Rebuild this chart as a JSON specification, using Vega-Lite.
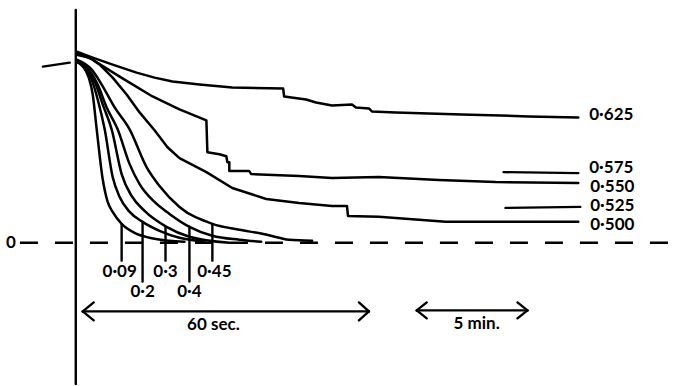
{
  "$schema": "https://vega.github.io/schema/vega-lite/v6.json",
  "autosize": {"type": "fit", "contains": "padding"},
  "width": 676,
  "height": 386,
  "padding": 0,
  "background": "white",
  "config": {"view": {"stroke": null}},
  "datasets": {
    "smooth": [
      {"s":"0.45","i":0,"x":77,"y":60},{"s":"0.45","i":1,"x":92,"y":70},{"s":"0.45","i":2,"x":102,"y":85},{"s":"0.45","i":3,"x":115,"y":108},{"s":"0.45","i":4,"x":130,"y":130},{"s":"0.45","i":5,"x":147,"y":168},{"s":"0.45","i":6,"x":160,"y":187},{"s":"0.45","i":7,"x":180,"y":208},{"s":"0.45","i":8,"x":213,"y":225},{"s":"0.45","i":9,"x":240,"y":231},{"s":"0.45","i":10,"x":263,"y":235},{"s":"0.45","i":11,"x":280,"y":239},{"s":"0.45","i":12,"x":290,"y":241},{"s":"0.45","i":13,"x":313,"y":242},
      {"s":"0.4","i":0,"x":77,"y":62},{"s":"0.4","i":1,"x":90,"y":71},{"s":"0.4","i":2,"x":98,"y":85},{"s":"0.4","i":3,"x":107,"y":108},{"s":"0.4","i":4,"x":118,"y":130},{"s":"0.4","i":5,"x":130,"y":165},{"s":"0.4","i":6,"x":140,"y":185},{"s":"0.4","i":7,"x":155,"y":203},{"s":"0.4","i":8,"x":170,"y":215},{"s":"0.4","i":9,"x":190,"y":228},{"s":"0.4","i":10,"x":213,"y":237},{"s":"0.4","i":11,"x":240,"y":241},{"s":"0.4","i":12,"x":262,"y":243},
      {"s":"0.3","i":0,"x":77,"y":62},{"s":"0.3","i":1,"x":88,"y":70},{"s":"0.3","i":2,"x":95,"y":82},{"s":"0.3","i":3,"x":103,"y":105},{"s":"0.3","i":4,"x":112,"y":130},{"s":"0.3","i":5,"x":122,"y":175},{"s":"0.3","i":6,"x":132,"y":197},{"s":"0.3","i":7,"x":145,"y":212},{"s":"0.3","i":8,"x":167,"y":228},{"s":"0.3","i":9,"x":190,"y":238},{"s":"0.3","i":10,"x":230,"y":244},
      {"s":"0.2","i":0,"x":77,"y":62},{"s":"0.2","i":1,"x":86,"y":69},{"s":"0.2","i":2,"x":92,"y":80},{"s":"0.2","i":3,"x":98,"y":100},{"s":"0.2","i":4,"x":105,"y":130},{"s":"0.2","i":5,"x":113,"y":178},{"s":"0.2","i":6,"x":120,"y":198},{"s":"0.2","i":7,"x":130,"y":213},{"s":"0.2","i":8,"x":143,"y":223},{"s":"0.2","i":9,"x":160,"y":232},{"s":"0.2","i":10,"x":180,"y":239},{"s":"0.2","i":11,"x":205,"y":243},
      {"s":"0.09","i":0,"x":77,"y":62},{"s":"0.09","i":1,"x":84,"y":68},{"s":"0.09","i":2,"x":89,"y":78},{"s":"0.09","i":3,"x":93,"y":95},{"s":"0.09","i":4,"x":97,"y":130},{"s":"0.09","i":5,"x":103,"y":180},{"s":"0.09","i":6,"x":108,"y":203},{"s":"0.09","i":7,"x":113,"y":213},{"s":"0.09","i":8,"x":122,"y":225},{"s":"0.09","i":9,"x":135,"y":234},{"s":"0.09","i":10,"x":150,"y":239},{"s":"0.09","i":11,"x":170,"y":242},{"s":"0.09","i":12,"x":185,"y":243}
    ],
    "stepped": [
      {"s":"0.625","i":0,"x":77,"y":52},{"s":"0.625","i":1,"x":93,"y":58},{"s":"0.625","i":2,"x":113,"y":65},{"s":"0.625","i":3,"x":137,"y":73},{"s":"0.625","i":4,"x":155,"y":78},{"s":"0.625","i":5,"x":173,"y":82},{"s":"0.625","i":6,"x":200,"y":85},{"s":"0.625","i":7,"x":233,"y":88},{"s":"0.625","i":8,"x":284,"y":89},{"s":"0.625","i":9,"x":285,"y":97},{"s":"0.625","i":10,"x":307,"y":100},{"s":"0.625","i":11,"x":317,"y":103},{"s":"0.625","i":12,"x":333,"y":106},{"s":"0.625","i":13,"x":353,"y":105},{"s":"0.625","i":14,"x":357,"y":108},{"s":"0.625","i":15,"x":370,"y":109},{"s":"0.625","i":16,"x":373,"y":112},{"s":"0.625","i":17,"x":397,"y":113},{"s":"0.625","i":18,"x":463,"y":115},{"s":"0.625","i":19,"x":530,"y":117},{"s":"0.625","i":20,"x":580,"y":118},
      {"s":"0.550","i":0,"x":77,"y":53},{"s":"0.550","i":1,"x":93,"y":60},{"s":"0.550","i":2,"x":120,"y":77},{"s":"0.550","i":3,"x":153,"y":97},{"s":"0.550","i":4,"x":180,"y":110},{"s":"0.550","i":5,"x":207,"y":121},{"s":"0.550","i":6,"x":208,"y":153},{"s":"0.550","i":7,"x":220,"y":155},{"s":"0.550","i":8,"x":227,"y":157},{"s":"0.550","i":9,"x":228,"y":163},{"s":"0.550","i":10,"x":230,"y":163},{"s":"0.550","i":11,"x":230,"y":172},{"s":"0.550","i":12,"x":250,"y":172},{"s":"0.550","i":13,"x":252,"y":175},{"s":"0.550","i":14,"x":300,"y":177},{"s":"0.550","i":15,"x":333,"y":179},{"s":"0.550","i":16,"x":380,"y":178},{"s":"0.550","i":17,"x":440,"y":181},{"s":"0.550","i":18,"x":497,"y":183},{"s":"0.550","i":19,"x":580,"y":184},
      {"s":"0.500","i":0,"x":77,"y":55},{"s":"0.500","i":1,"x":90,"y":58},{"s":"0.500","i":2,"x":100,"y":65},{"s":"0.500","i":3,"x":113,"y":78},{"s":"0.500","i":4,"x":127,"y":95},{"s":"0.500","i":5,"x":140,"y":113},{"s":"0.500","i":6,"x":155,"y":131},{"s":"0.500","i":7,"x":168,"y":148},{"s":"0.500","i":8,"x":180,"y":159},{"s":"0.500","i":9,"x":207,"y":173},{"s":"0.500","i":10,"x":233,"y":189},{"s":"0.500","i":11,"x":267,"y":200},{"s":"0.500","i":12,"x":300,"y":204},{"s":"0.500","i":13,"x":333,"y":207},{"s":"0.500","i":14,"x":348,"y":207},{"s":"0.500","i":15,"x":349,"y":217},{"s":"0.500","i":16,"x":380,"y":218},{"s":"0.500","i":17,"x":447,"y":223},{"s":"0.500","i":18,"x":580,"y":223}
    ],
    "segs": [
      {"x":76,"y":10,"x2":76,"y2":386},
      {"x":43,"y":67,"x2":70,"y2":63},
      {"x":122,"y":225,"x2":122,"y2":262},
      {"x":143,"y":223,"x2":143,"y2":283},
      {"x":166,"y":228,"x2":166,"y2":262},
      {"x":190,"y":228,"x2":190,"y2":283},
      {"x":213,"y":225,"x2":213,"y2":262},
      {"x":505,"y":173,"x2":580,"y2":174},
      {"x":507,"y":209,"x2":582,"y2":208},
      {"x":83,"y":313,"x2":370,"y2":313},
      {"x":83,"y":313,"x2":94,"y2":304},
      {"x":83,"y":313,"x2":94,"y2":322},
      {"x":370,"y":313,"x2":360,"y2":304},
      {"x":370,"y":313,"x2":360,"y2":322},
      {"x":418,"y":312,"x2":529,"y2":312},
      {"x":418,"y":312,"x2":428,"y2":304},
      {"x":418,"y":312,"x2":428,"y2":320},
      {"x":529,"y":312,"x2":519,"y2":304},
      {"x":529,"y":312,"x2":519,"y2":320}
    ],
    "zero": [{"x":20,"y":244,"x2":676,"y2":244}],
    "rightLabels": [
      {"x":591,"y":116,"t":"0·625"},
      {"x":591,"y":169,"t":"0·575"},
      {"x":592,"y":188,"t":"0·550"},
      {"x":592,"y":207,"t":"0·525"},
      {"x":592,"y":226,"t":"0·500"}
    ],
    "centerLabels": [
      {"x":120,"y":273,"t":"0·09"},
      {"x":143,"y":294,"t":"0·2"},
      {"x":166,"y":273,"t":"0·3"},
      {"x":190,"y":294,"t":"0·4"},
      {"x":215,"y":273,"t":"0·45"},
      {"x":214,"y":327,"t":"60 sec."},
      {"x":478,"y":326,"t":"5 min."},
      {"x":11,"y":244,"t":"0"}
    ]
  },
  "layer": [
    {
      "data": {"name": "zero"},
      "mark": {"type": "rule", "stroke": "black", "strokeWidth": 2.4, "strokeDash": [18, 17]},
      "encoding": {
        "x": {"field": "x", "type": "quantitative", "scale": {"domain": [0, 676], "nice": false, "zero": false}, "axis": null},
        "y": {"field": "y", "type": "quantitative", "scale": {"domain": [0, 386], "nice": false, "zero": false, "reverse": true}, "axis": null},
        "x2": {"field": "x2"},
        "y2": {"field": "y2"}
      }
    },
    {
      "data": {"name": "segs"},
      "mark": {"type": "rule", "stroke": "black", "strokeWidth": 2.4, "strokeCap": "round"},
      "encoding": {
        "x": {"field": "x", "type": "quantitative"},
        "y": {"field": "y", "type": "quantitative"},
        "x2": {"field": "x2"},
        "y2": {"field": "y2"}
      }
    },
    {
      "data": {"name": "smooth"},
      "mark": {"type": "line", "stroke": "black", "strokeWidth": 2.5, "interpolate": "monotone", "strokeJoin": "round", "strokeCap": "round"},
      "encoding": {
        "x": {"field": "x", "type": "quantitative"},
        "y": {"field": "y", "type": "quantitative"},
        "detail": {"field": "s"},
        "order": {"field": "i", "type": "quantitative"}
      }
    },
    {
      "data": {"name": "stepped"},
      "mark": {"type": "line", "stroke": "black", "strokeWidth": 2.5, "interpolate": "linear", "strokeJoin": "round", "strokeCap": "round"},
      "encoding": {
        "x": {"field": "x", "type": "quantitative"},
        "y": {"field": "y", "type": "quantitative"},
        "detail": {"field": "s"},
        "order": {"field": "i", "type": "quantitative"}
      }
    },
    {
      "data": {"name": "rightLabels"},
      "mark": {"type": "text", "font": "Lato", "fontSize": 17, "fontWeight": "bold", "align": "left", "baseline": "middle", "color": "black"},
      "encoding": {
        "x": {"field": "x", "type": "quantitative"},
        "y": {"field": "y", "type": "quantitative"},
        "text": {"field": "t"}
      }
    },
    {
      "data": {"name": "centerLabels"},
      "mark": {"type": "text", "font": "Lato", "fontSize": 17, "fontWeight": "bold", "align": "center", "baseline": "middle", "color": "black"},
      "encoding": {
        "x": {"field": "x", "type": "quantitative"},
        "y": {"field": "y", "type": "quantitative"},
        "text": {"field": "t"}
      }
    }
  ]
}
